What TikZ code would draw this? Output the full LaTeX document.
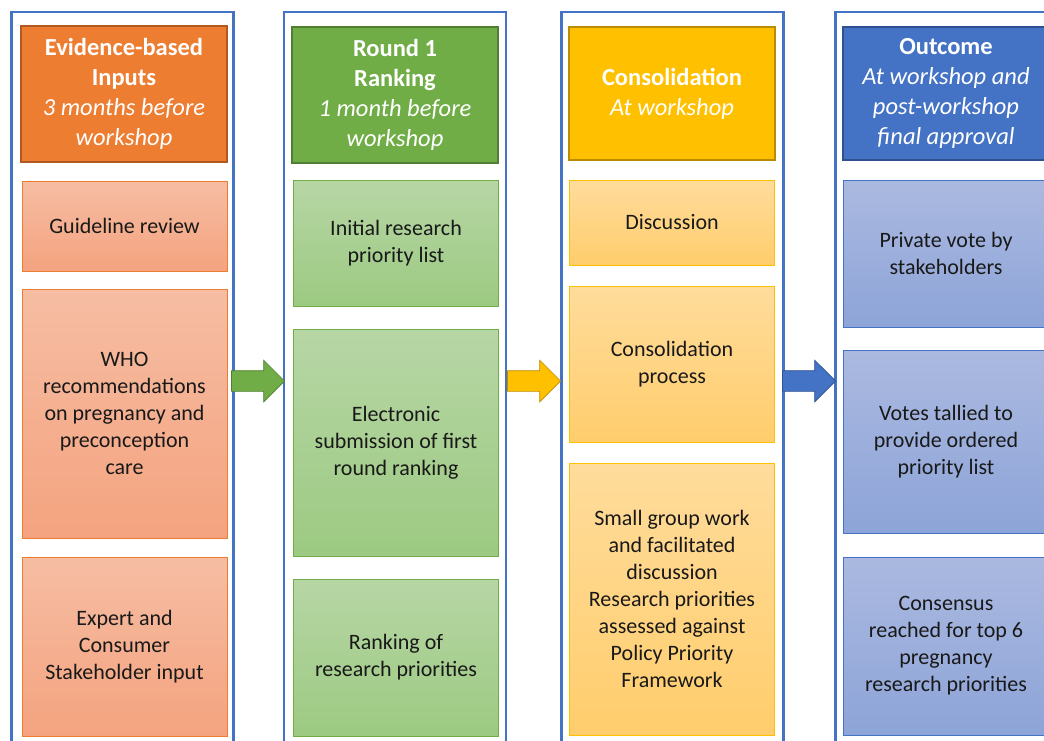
\documentclass[tikz,border=0pt]{standalone}
\usepackage{fontspec}
\setmainfont{Carlito}
\usetikzlibrary{shapes.arrows}

\definecolor{frameblue}{HTML}{4472C4}
\definecolor{orangeH}{HTML}{ED7D31}
\definecolor{orangeD}{HTML}{AE5A21}
\definecolor{orangeT}{HTML}{F6BDA3}
\definecolor{orangeB}{HTML}{F4A37F}
\definecolor{greenH}{HTML}{70AD47}
\definecolor{greenD}{HTML}{507E32}
\definecolor{greenT}{HTML}{B7D6A5}
\definecolor{greenB}{HTML}{9CCA82}
\definecolor{yellowH}{HTML}{FFC000}
\definecolor{yellowD}{HTML}{BC8C00}
\definecolor{yellowT}{HTML}{FFDC9C}
\definecolor{yellowB}{HTML}{FFCD6C}
\definecolor{blueH}{HTML}{4472C4}
\definecolor{blueD}{HTML}{2F528F}
\definecolor{blueT}{HTML}{ABB9E0}
\definecolor{blueB}{HTML}{8DA4D8}

\tikzset{
  frame/.style={draw=frameblue, line width=2.2pt, minimum width=222pt, minimum height=760pt, inner sep=0pt},
  head/.style={line width=1.6pt, text=white, align=center, minimum width=206pt, inner sep=0pt, font=\fontsize{24.5}{30}\selectfont},
  item/.style={line width=0.8pt, align=center, minimum width=205pt, inner sep=0pt, text=black!90, font=\fontsize{22}{27}\selectfont},
  orangeitem/.style={item, draw=orangeH, top color=orangeT, bottom color=orangeB},
  greenitem/.style={item, draw=greenH, top color=greenT, bottom color=greenB},
  yellowitem/.style={item, draw=yellowH, top color=yellowT, bottom color=yellowB},
  blueitem/.style={item, draw=blueH, top color=blueT, bottom color=blueB},
  bigarrow/.style={single arrow, anchor=tip, inner sep=0pt, minimum height=53pt, single arrow head extend=10.5pt, line width=0.7pt}
}

\begin{document}
\begin{tikzpicture}[x=1pt, y=-1pt]
\useasboundingbox (0,0) rectangle (1044,740);
\clip (0,0) rectangle (1044,740);

% column frames
\node [frame] (colA) at (122.5,392) {};
\node [frame] (colB) at (395,392) {};
\node [frame] (colC) at (672.5,392) {};
\node [frame] (colD) at (946.5,392) {};

% evidence-based inputs
\node [head, draw=orangeD, fill=orangeH, minimum height=136pt] (inputs) at (124,94)
  {\textbf{Evidence-based}\\\textbf{Inputs}\\\textit{3 months before}\\\textit{workshop}};
\node [orangeitem, minimum height=90pt] (review) at (124.5,226) {Guideline review};
\node [orangeitem, minimum height=249pt] (who) at (124.5,413.5)
  {WHO\\recommendations\\on pregnancy and\\preconception\\care};
\node [orangeitem, minimum height=179pt] (expert) at (124.5,646.5)
  {Expert and\\Consumer\\Stakeholder input};

% round 1 ranking
\node [head, draw=greenD, fill=greenH, minimum height=136pt] (round) at (395,95)
  {\textbf{Round 1}\\\textbf{Ranking}\\\textit{1 month before}\\\textit{workshop}};
\node [greenitem, minimum height=126pt] (initial) at (396,243) {Initial research\\priority list};
\node [greenitem, minimum height=227pt] (submit) at (396,442.5)
  {Electronic\\submission of first\\round ranking};
\node [greenitem, minimum height=157pt] (ranking) at (396,657.5) {Ranking of\\research priorities};

% consolidation
\node [head, draw=yellowD, fill=yellowH, minimum height=133pt] (consol) at (672,93.5)
  {\textbf{Consolidation}\\\textit{At workshop}};
\node [yellowitem, minimum height=85pt] (discuss) at (672,222.5) {Discussion};
\node [yellowitem, minimum height=156pt] (process) at (672,364) {Consolidation\\process};
\node [yellowitem, minimum height=272pt] (group) at (672,599)
  {Small group work\\and facilitated\\discussion\\Research priorities\\assessed against\\Policy Priority\\Framework};

% outcome
\node [head, draw=blueD, fill=blueH, minimum height=133pt] (outcome) at (946,93.5)
  {\textbf{Outcome}\\\textit{At workshop and}\\\textit{post-workshop}\\\textit{final approval}};
\node [blueitem, minimum height=147pt] (vote) at (946,253.5) {Private vote by\\stakeholders};
\node [blueitem, minimum height=183pt] (tally) at (946,441.5)
  {Votes tallied to\\provide ordered\\priority list};
\node [blueitem, minimum height=178pt] (consensus) at (946,646)
  {Consensus\\reached for top 6\\pregnancy\\research priorities};

% arrows between the columns
\node [bigarrow, draw=greenD, fill=greenH] (arrAB) at (285,381) {\rule{0pt}{20pt}};
\node [bigarrow, draw=yellowD, fill=yellowH] (arrBC) at (561,381) {\rule{0pt}{20pt}};
\node [bigarrow, draw=blueD, fill=blueH] (arrCD) at (836,381) {\rule{0pt}{20pt}};
\end{tikzpicture}
\end{document}
